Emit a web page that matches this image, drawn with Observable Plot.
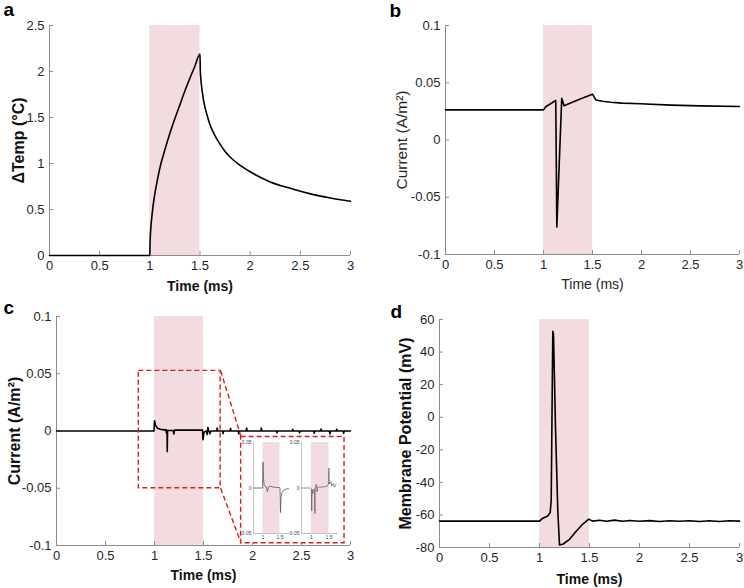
<!DOCTYPE html>
<html><head><meta charset="utf-8">
<script src="https://cdn.jsdelivr.net/npm/d3@7"></script>
<script src="https://cdn.jsdelivr.net/npm/@observablehq/plot@0.6"></script>
<style>
body{margin:0;background:#fff;}
#fig{position:relative;width:744px;height:588px;overflow:hidden;background:#fff;}
#fig svg{position:absolute;overflow:visible;}
</style></head><body><div id="fig"></div>
<script>
// ---------- shared ----------
const timeTicks = [0, 0.5, 1, 1.5, 2, 2.5, 3];
const pulseStart = [1];
const pulseEnd = [1.5];

// ---------- panel a : temperature rise ----------
const tempTicks = [0, 0.5, 1, 1.5, 2, 2.5];
const tempTime  = [0, 1.0, 1.002, 1.006, 1.012, 1.02, 1.03, 1.05, 1.075, 1.1, 1.15, 1.2, 1.25, 1.3, 1.35, 1.4, 1.45, 1.5,
                   1.503, 1.51, 1.52, 1.535, 1.55, 1.58, 1.6, 1.65, 1.7, 1.75, 1.8, 1.9, 2.0, 2.1, 2.2, 2.4, 2.6, 2.8, 3.0];
const tempValue = [0, 0, 0.13, 0.23, 0.33, 0.42, 0.52, 0.67, 0.82, 0.95, 1.15, 1.33, 1.49, 1.64, 1.79, 1.93, 2.06, 2.19,
                   2.02, 1.90, 1.80, 1.69, 1.61, 1.49, 1.42, 1.30, 1.21, 1.13, 1.07, 0.98, 0.91, 0.85, 0.80, 0.73, 0.67, 0.625, 0.59];

// ---------- panel b : total current ----------
const currentTicks = [-0.1, -0.05, 0, 0.05, 0.1];
const bTime  = [0, 1.0, 1.023, 1.06, 1.108, 1.125, 1.136, 1.186, 1.21, 1.3, 1.4, 1.5, 1.534, 1.6, 1.687, 1.8, 1.99, 2.3, 2.6, 3.0];
const bValue = [0.0263, 0.0263, 0.029, 0.031, 0.0336, 0.0345, -0.076, 0.0365, 0.030, 0.0332, 0.0366, 0.040, 0.035, 0.0338, 0.033, 0.0322, 0.0316, 0.0305, 0.0298, 0.0293];

// ---------- panel c : difference current ----------
const cTime  = [0, 0.995, 1.0, 1.01, 1.03, 1.06, 1.1, 1.118, 1.121, 1.125, 1.128, 1.13, 1.133, 1.19, 1.197, 1.205, 1.49, 1.495, 1.505, 1.53,
                1.537, 1.545, 1.555, 1.565, 1.575, 1.635, 1.64, 1.645, 1.695, 1.70, 1.705, 1.77, 1.776, 1.782, 1.855, 1.86, 1.865,
                1.935, 1.94, 1.945, 2.085, 2.09, 2.095, 2.245, 2.25, 2.255, 2.405, 2.41, 2.415, 2.475, 2.48, 2.485,
                2.625, 2.63, 2.635, 2.695, 2.70, 2.705, 2.785, 2.79, 2.795, 2.855, 2.86, 2.865, 2.925, 2.93, 2.935, 3.0];
const cValue = [0, 0, 0.009, 0.005, 0.0025, 0.0015, 0.001, 0.001, -0.0017, 0.0005, 0.0005, -0.018, 0.0005, 0.0005, -0.0026, 0.0008, 0.0008, -0.0076, -0.001, 0,
                -0.003, 0.003, 0, -0.0025, 0, 0, 0.0026, 0, 0, -0.0022, 0, 0, 0.0022, 0, 0, -0.0026, 0,
                0, 0.0026, 0, 0, 0.0026, 0, 0, -0.0015, 0, 0, 0.0015, 0, 0, -0.0015, 0,
                0, -0.002, 0, 0, 0.0018, 0, 0, -0.0026, 0, 0, 0.0015, 0, 0, -0.002, 0, 0];
// zoom box & inset frame (data units of panel c)
const zoomBox  = [{x1: 0.84, x2: 1.675, y1: -0.05, y2: 0.0525}];
const insetBox = [{x1: 1.884, x2: 2.939, y1: -0.098, y2: -0.00525}];
const zoomLinks = [{x1: 1.675, y1: 0.0525, x2: 1.884, y2: -0.00525}, {x1: 1.675, y1: -0.05, x2: 1.884, y2: -0.098}];
// inset traces
const insetTicksX = [1, 1.5];
const insetTicksY = [-0.05, 0, 0.05];
const insetLTime  = [0.72, 0.99, 1.0, 1.01, 1.03, 1.06, 1.1, 1.13, 1.16, 1.2, 1.3, 1.4, 1.49, 1.5, 1.515, 1.53, 1.56, 1.62, 1.7, 1.75];
const insetLValue = [0, 0, 0.0285, 0.012, 0.004, 0.002, 0.001, -0.004, 0.001, 0.002, 0.001, 0.0005, 0.0005, -0.001, -0.027, -0.01, -0.005, -0.002, -0.001, -0.0008];
const insetRTime  = [0.72, 0.98, 1.0, 1.01, 1.02, 1.04, 1.06, 1.09, 1.1, 1.11, 1.14, 1.16, 1.18, 1.3, 1.45, 1.48, 1.5, 1.51, 1.55, 1.58, 1.62, 1.66, 1.7];
const insetRValue = [0, 0, -0.001, -0.025, -0.002, -0.006, -0.001, -0.002, -0.028, 0.001, 0.004, -0.004, 0.001, 0.001, 0.002, 0.004, 0.022, 0.004, 0.007, 0.002, 0.005, 0.001, 0.004];

// ---------- panel d : membrane potential ----------
const vTicks = [-80, -60, -40, -20, 0, 20, 40, 60];
const vTime  = [0, 1.0, 1.033, 1.083, 1.107, 1.117, 1.127, 1.133, 1.14, 1.16, 1.183, 1.2, 1.233, 1.3, 1.367, 1.433, 1.493,
                1.53, 1.6, 1.67, 1.75, 1.83, 1.9, 2.0, 2.1, 2.2, 2.3, 2.4, 2.5, 2.6, 2.7, 2.8, 2.9, 3.0];
const vValue = [-63.8, -63.8, -62, -60.6, -58.5, -51, 14, 52.8, 50.8, -6.4, -57.5, -78.4, -78, -75, -70, -65.6, -62.6,
                -63.8, -63.3, -63.9, -63.2, -63.9, -63.4, -63.9, -63.5, -64, -63.6, -63.9, -63.6, -64.0, -63.6, -64.0, -63.6, -63.8];

// ---------- helpers ----------
const FONT = '"Liberation Sans", Arial, Helvetica, sans-serif';
const AXIS = "#8c8c8c";
const INK = "#262626";
const BAND = "#f2dcdf";
const zip = (t, v) => t.map((d, i) => ({t: d, v: v[i]}));
const band = pulseStart.map((s, i) => ({start: s, end: pulseEnd[i]}));
const fig = document.getElementById("fig");

function place(svg, left, top) {
  svg.style.left = left + "px";
  svg.style.top = top + "px";
  fig.appendChild(svg);
}

function panel(o) {
  const W = 372, H = 294;
  const m = o.margin;
  const pw = W - m.l - m.r, ph = H - m.t - m.b;
  const y0 = o.yDomain[0];
  const marks = [
    Plot.rect(band, {x1: "start", x2: "end", fill: BAND}),
    Plot.ruleX([0], {stroke: AXIS}),
    Plot.ruleY([y0], {stroke: AXIS}),
    Plot.tickX(timeTicks, {x: d => d, insetTop: ph - 4, stroke: AXIS}),
    Plot.tickY(o.yTicks, {y: d => d, insetRight: pw - 4, stroke: AXIS}),
    ...(o.under || []),
    Plot.line(o.data, {x: "t", y: "v", stroke: "#000", strokeWidth: 1.6, curve: o.curve || "linear"}),
    ...(o.over || []),
    Plot.axisX(timeTicks, {tickSize: 0, tickPadding: 5, tickFormat: d => String(d), label: null, fontSize: 13, fill: INK}),
    Plot.axisY(o.yTicks, {tickSize: 0, tickPadding: 5, tickFormat: d => String(d), label: null, fontSize: 13, fill: INK}),
    Plot.text(["Time (ms)"], {text: d => d, frameAnchor: "bottom", dy: o.xLabelDy, textAnchor: "middle", lineAnchor: "middle",
      fontSize: 14, fontWeight: o.xBold ? "bold" : "normal", fill: o.xBold ? "#111" : INK}),
    Plot.text([o.yLabel], {text: d => d, frameAnchor: "left", dx: -(m.l - o.yLabelX), rotate: -90, textAnchor: "middle", lineAnchor: "middle",
      fontSize: o.yBold ? 16 : 15.5, fontWeight: o.yBold ? "bold" : "normal", fill: o.yBold ? "#111" : INK}),
    Plot.text([o.letter], {text: d => d, frameAnchor: "top-left", dx: o.letterX - m.l, dy: o.letterY - m.t, textAnchor: "start", lineAnchor: "bottom",
      fontSize: 19, fontWeight: "bold", fill: "#000"})
  ];
  const svg = Plot.plot({
    width: W, height: H,
    marginLeft: m.l, marginRight: m.r, marginTop: m.t, marginBottom: m.b,
    x: {domain: [0, 3]},
    y: {domain: o.yDomain},
    style: {fontFamily: FONT, background: "transparent", overflow: "visible"},
    marks
  });
  place(svg, o.left, o.top);
}

function mini(o) {
  const W = 62, H = 110, m = {l: o.ml, r: 4, t: 6, b: 13};
  const svg = Plot.plot({
    width: W, height: H,
    marginLeft: m.l, marginRight: m.r, marginTop: m.t, marginBottom: m.b,
    x: {domain: [0.72, o.xMax]},
    y: {domain: [-0.05, 0.05]},
    style: {fontFamily: FONT, background: "transparent", overflow: "visible"},
    marks: [
      Plot.rect(band, {x1: "start", x2: "end", fill: BAND}),
      Plot.ruleX([0.72], {stroke: "#aaa", strokeWidth: 0.7}),
      Plot.ruleY([-0.05], {stroke: "#aaa", strokeWidth: 0.7}),
      Plot.line(o.data, {x: "t", y: "v", stroke: o.stroke, strokeWidth: o.sw, strokeDasharray: o.dash}),
      Plot.axisX(insetTicksX, {tickSize: 0, tickPadding: 2, tickFormat: d => String(d), label: null, fontSize: 5, fill: "#444"}),
      Plot.axisY(insetTicksY, {tickSize: 0, tickPadding: 2, tickFormat: d => String(d), label: null, fontSize: 5, fill: "#444"})
    ]
  });
  place(svg, o.left, o.top);
}

// ---------- draw ----------
panel({left: 0, top: 0, margin: {l: 49, r: 22, t: 25, b: 39},
  yDomain: [0, 2.5], yTicks: tempTicks, data: zip(tempTime, tempValue), curve: "monotone-x",
  yLabel: "ΔTemp (°C)", yLabelX: 18, yBold: true, xBold: true, xLabelDy: 31,
  letter: "a", letterX: 3, letterY: 15});

panel({left: 372, top: 0, margin: {l: 73, r: 5, t: 25, b: 40},
  yDomain: [-0.1, 0.1], yTicks: currentTicks, data: zip(bTime, bValue),
  yLabel: "Current (A/m²)", yLabelX: 30, yBold: false, xBold: false, xLabelDy: 30,
  letter: "b", letterX: 17, letterY: 16});

panel({left: 0, top: 294, margin: {l: 56, r: 22, t: 22, b: 43},
  yDomain: [-0.1, 0.1], yTicks: currentTicks, data: zip(cTime, cValue),
  yLabel: "Current (A/m²)", yLabelX: 14, yBold: true, xBold: true, xLabelDy: 30,
  letter: "c", letterX: 3, letterY: 19,
  over: [
    Plot.rect(zoomBox, {x1: "x1", x2: "x2", y1: "y1", y2: "y2", fill: "none", stroke: "#e3191f", strokeWidth: 1.4, strokeDasharray: "5,3"}),
    Plot.link(zoomLinks, {x1: "x1", y1: "y1", x2: "x2", y2: "y2", stroke: "#e3191f", strokeWidth: 1.4, strokeDasharray: "5,3"}),
    Plot.rect(insetBox, {x1: "x1", x2: "x2", y1: "y1", y2: "y2", fill: "#fff", stroke: "#e3191f", strokeWidth: 1.4, strokeDasharray: "5,3"})
  ]});

panel({left: 372, top: 294, margin: {l: 67, r: 5, t: 25, b: 41},
  yDomain: [-80, 60], yTicks: vTicks, data: zip(vTime, vValue),
  yLabel: "Membrane Potential (mV)", yLabelX: 33, yBold: true, xBold: true, xLabelDy: 32,
  letter: "d", letterX: 18, letterY: 23});

mini({left: 230, top: 436, ml: 23, xMax: 1.75, data: zip(insetLTime, insetLValue), stroke: "#555", sw: 0.8, dash: null});
mini({left: 280, top: 436, ml: 21, xMax: 1.77, data: zip(insetRTime, insetRValue), stroke: "#444", sw: 0.7, dash: "1.5,1.2"});
</script>
</body></html>
